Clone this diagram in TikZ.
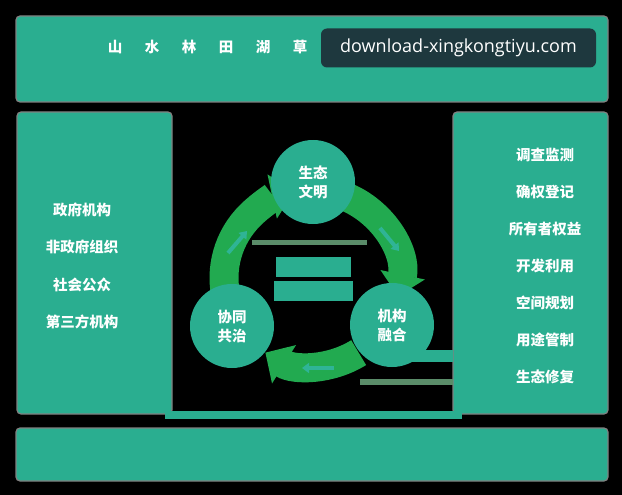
\documentclass[tikz,border=0pt]{standalone}
\usepackage{fontspec}
\setmainfont{Noto Sans CJK SC}
\newfontfamily\wmfont{Open Sans}
\usetikzlibrary{arrows.meta}
\definecolor{boxteal}{RGB}{42,174,144}
\definecolor{ringgreen}{RGB}{34,170,80}
\definecolor{arrteal}{RGB}{47,180,150}
\definecolor{edgegray}{RGB}{128,128,128}
\definecolor{linegreen}{RGB}{90,140,105}
\definecolor{wmdark}{RGB}{30,56,62}

\begin{document}
\begin{tikzpicture}[x=1pt,y=-1pt,
    panel/.style={fill=boxteal,draw=edgegray,line width=1.2pt,rounded corners=4pt},
    ring/.style={ringgreen,line width=29pt,-{Triangle[width=44pt,length=22pt]}},
    small/.style={arrteal,line width=4pt,-{Triangle[width=10pt,length=7pt]}},
    hub/.style={circle,fill=boxteal,minimum size=84pt,inner sep=0pt,text=white,
      font=\bfseries\fontsize{14.5}{19}\selectfont,align=center},
    item/.style={text=white,font=\bfseries\fontsize{14.5}{16}\selectfont,inner sep=0pt}]
    %background
    \useasboundingbox (0,0) rectangle (622,495);
    \fill [black] (0,0) rectangle (622,495);

    %panels
    \draw [panel] (16,16) rectangle (608,102);
    \draw [panel] (17,112) rectangle (172,414);
    \draw [panel] (453,112) rectangle (608,414);
    \fill [boxteal] (165,411) rectangle (462,419);
    \draw [panel] (16,428) rectangle (608,481);

    %leftovers in the middle
    \fill [linegreen] (252,240) rectangle (367,245);
    \fill [boxteal] (405,350) rectangle (453,362);
    \fill [linegreen] (360,379) rectangle (453,385);
    \fill [boxteal] (276,257) rectangle (351,277);
    \fill [boxteal] (274,281) rectangle (353,301);

    %ring arrows
    \draw [ring] (312,278) ++(-72:88) arc (-72:12:88);
    \draw [ring] (312,278) ++(58:88) arc (58:122:88);
    \draw [ring] (312,278) ++(162:88) arc (162:258:88);

    %small arrows
    \draw [small] (228,253) -- (247,231);
    \draw [small] (380,228) -- (399,251);
    \draw [small] (334,368) -- (302,368);

    %hubs
    \node [hub] (eco) at (313,182) {生态\\文明};
    \node [hub] (coop) at (232,326) {协同\\共治};
    \node [hub] (inst) at (392,325) {机构\\融合};

    %top row
    \foreach \ch [count=\i] in {山,水,林,田,湖,草}
      \node [item] (top\i) at (78+37*\i,47) {\ch};

    %left list
    \foreach \txt [count=\i] in {政府机构,非政府组织,社会公众,第三方机构}
      \node [item] (left\i) at (82,172+37.5*\i) {\txt};

    %right list
    \foreach \txt [count=\i] in {调查监测,确权登记,所有者权益,开发利用,空间规划,用途管制,生态修复}
      \node [item] (right\i) at (545,118+37*\i) {\txt};

    %watermark
    \node [fill=wmdark,rounded corners=6pt,text=white,minimum width=275pt,minimum height=39pt,
      font=\wmfont\fontsize{18}{20}\selectfont] (wm) at (458.5,48) {download-xingkongtiyu.com};
  \end{tikzpicture}
\end{document}
